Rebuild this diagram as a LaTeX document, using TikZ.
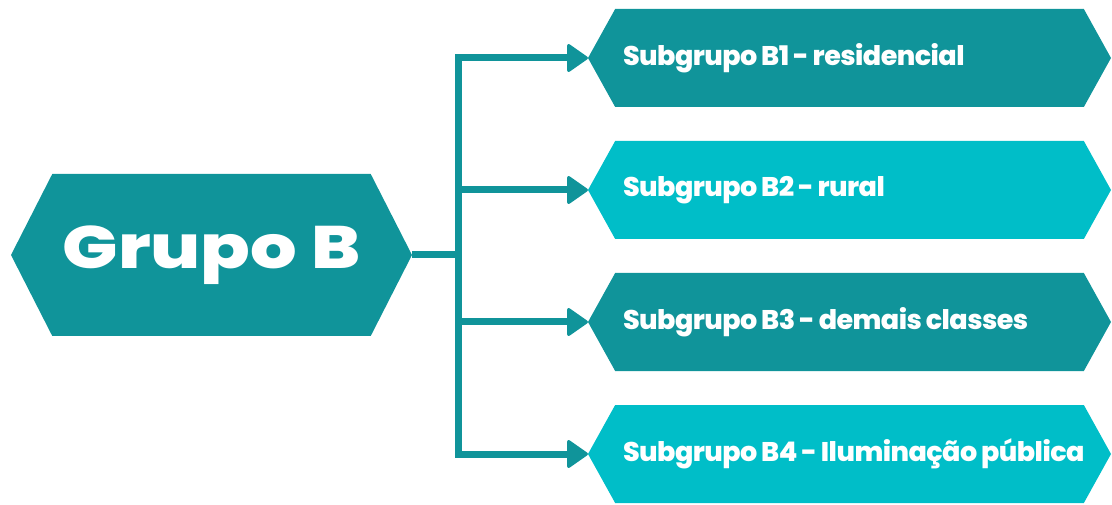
\documentclass[tikz,border=0pt]{standalone}
\usepackage{fontspec}
\setmainfont{Poppins}
\newfontfamily\headfont{Poppins}[UprightFont=* ExtraBold, FakeStretch=1.22]
\newfontfamily\subfont{Poppins}[UprightFont=* ExtraBold, LetterSpace=-2, WordSpace=0.85]
\usepackage{tikz}
\usetikzlibrary{shapes.symbols, arrows.meta, positioning, calc}
\definecolor{tealdark}{RGB}{16,148,154}
\definecolor{teallight}{RGB}{0,190,200}
\newcommand{\sublabel}[1]{\makebox[453pt][l]{#1}}
\tikzstyle{group} = [signal, signal to=east and west, signal pointer angle=126, minimum width=401pt, minimum height=162pt, inner sep=0pt, outer sep=0pt, fill=tealdark, text=white, font=\headfont\fontsize{60}{60}\selectfont]
\tikzstyle{subgroup} = [signal, signal to=east and west, signal pointer angle=122, minimum width=523pt, minimum height=98pt, inner sep=0pt, outer sep=0pt, fill=tealdark, text=white, font=\subfont\fontsize{27}{27}\selectfont]
\tikzstyle{arrow} = [line width=7pt, draw=tealdark, line join=miter, -{Triangle[length=22pt, width=30pt, round, line width=3pt]}]

\begin{document}
\begin{tikzpicture}[x=1pt, y=-1pt]
    \useasboundingbox (0,0) rectangle (1112,505);
    \node (grupo) [group] at (211.5,255) {Grupo B};
    \node (b1) [subgroup] at (849.5,58) {\sublabel{Subgrupo B1 - residencial}};
    \node (b2) [subgroup, fill=teallight, below=34pt of b1] {\sublabel{Subgrupo B2 - rural}};
    \node (b3) [subgroup, below=34pt of b2] {\sublabel{Subgrupo B3 - demais classes}};
    \node (b4) [subgroup, fill=teallight, below=34pt of b3] {\sublabel{Subgrupo B4 - Iluminação pública}};

    \coordinate (split) at ($(grupo.east)+(46,0)$);
    \draw [line width=7pt, draw=tealdark] (grupo.east) -- (split);
    \foreach \b in {b1,b2,b3,b4}
        \draw [arrow] (split) |- (\b.west);
\end{tikzpicture}
\end{document}
